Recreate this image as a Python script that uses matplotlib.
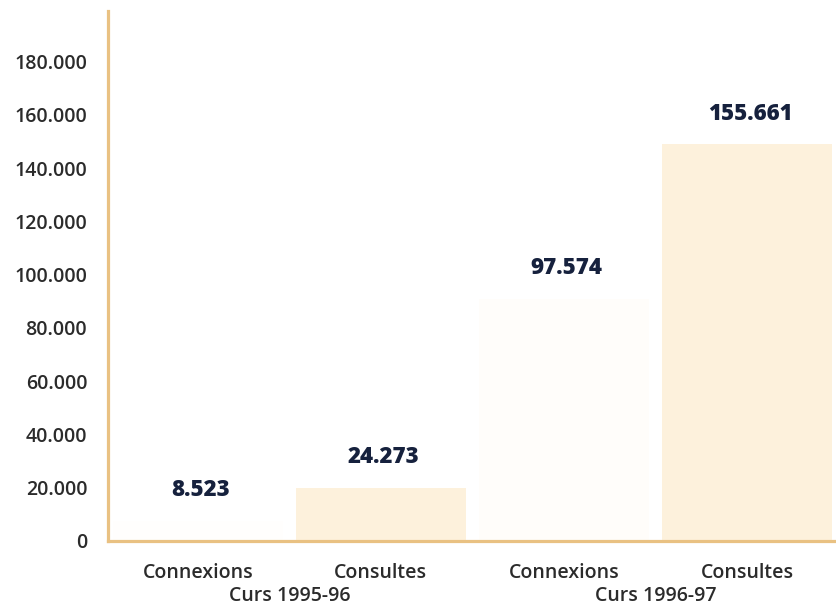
import matplotlib
matplotlib.use("Agg")
import matplotlib.pyplot as plt
import numpy as np

# dades llegides del gràfic
categories = ['Connexions', 'Consultes', 'Connexions', 'Consultes']
groups = ['Curs 1995-96', 'Curs 1996-97']
bar_heights = [7500, 20000, 91000, 149000]     # alçada dibuixada de les barres
value_labels = ['8.523', '24.273', '97.574', '155.661']
yticks = [0, 20000, 40000, 60000, 80000, 100000, 120000, 140000, 160000, 180000]
ytick_labels = ['0', '20.000', '40.000', '60.000', '80.000', '100.000',
                '120.000', '140.000', '160.000', '180.000']

AXIS_COLOR = '#e9c182'
BAR_COLORS = ['#fffefd', '#fdf1dc', '#fffdfa', '#fdf1dc']
TEXT_GRAY = '#2b2b2b'
NAVY = '#16213d'

plt.rcParams['font.family'] = ['Open Sans', 'DejaVu Sans']

fig = plt.figure(figsize=(8.37, 6.09), dpi=100)
ax = fig.add_axes([108 / 837, 68 / 609, 1 - 108 / 837, (542 - 12) / 609])

x = np.arange(len(categories))
ax.bar(x, bar_heights, width=0.93, color=BAR_COLORS, zorder=1)

for xi, h, lab in zip(x, bar_heights, value_labels):
    ax.annotate(lab, (xi, h), xytext=(2, 22), textcoords='offset points',
                ha='center', va='center', fontsize=16, fontweight='extra bold',
                color=NAVY)

ax.set_xlim(-0.49, 3.49)
ax.set_ylim(0, 199000)
ax.set_yticks(yticks)
ax.set_yticklabels(ytick_labels, fontsize=14, fontweight='semibold', color=TEXT_GRAY)
ax.tick_params(axis='y', length=0, pad=15)

ax.set_xticks(x)
ax.set_xticklabels(categories, fontsize=14, fontweight='semibold', color=TEXT_GRAY)
ax.tick_params(axis='x', length=0, pad=16)

for gi, g in enumerate(groups):
    ax.text(gi * 2 + 0.5, -0.104, g, transform=ax.get_xaxis_transform(),
            ha='center', va='center', fontsize=14, fontweight='semibold',
            color=TEXT_GRAY)

for s in ['top', 'right']:
    ax.spines[s].set_visible(False)
for s in ['left', 'bottom']:
    ax.spines[s].set_color(AXIS_COLOR)
    ax.spines[s].set_linewidth(2.3)
    ax.spines[s].set_zorder(3)

plt.savefig('out.png', dpi=100)
